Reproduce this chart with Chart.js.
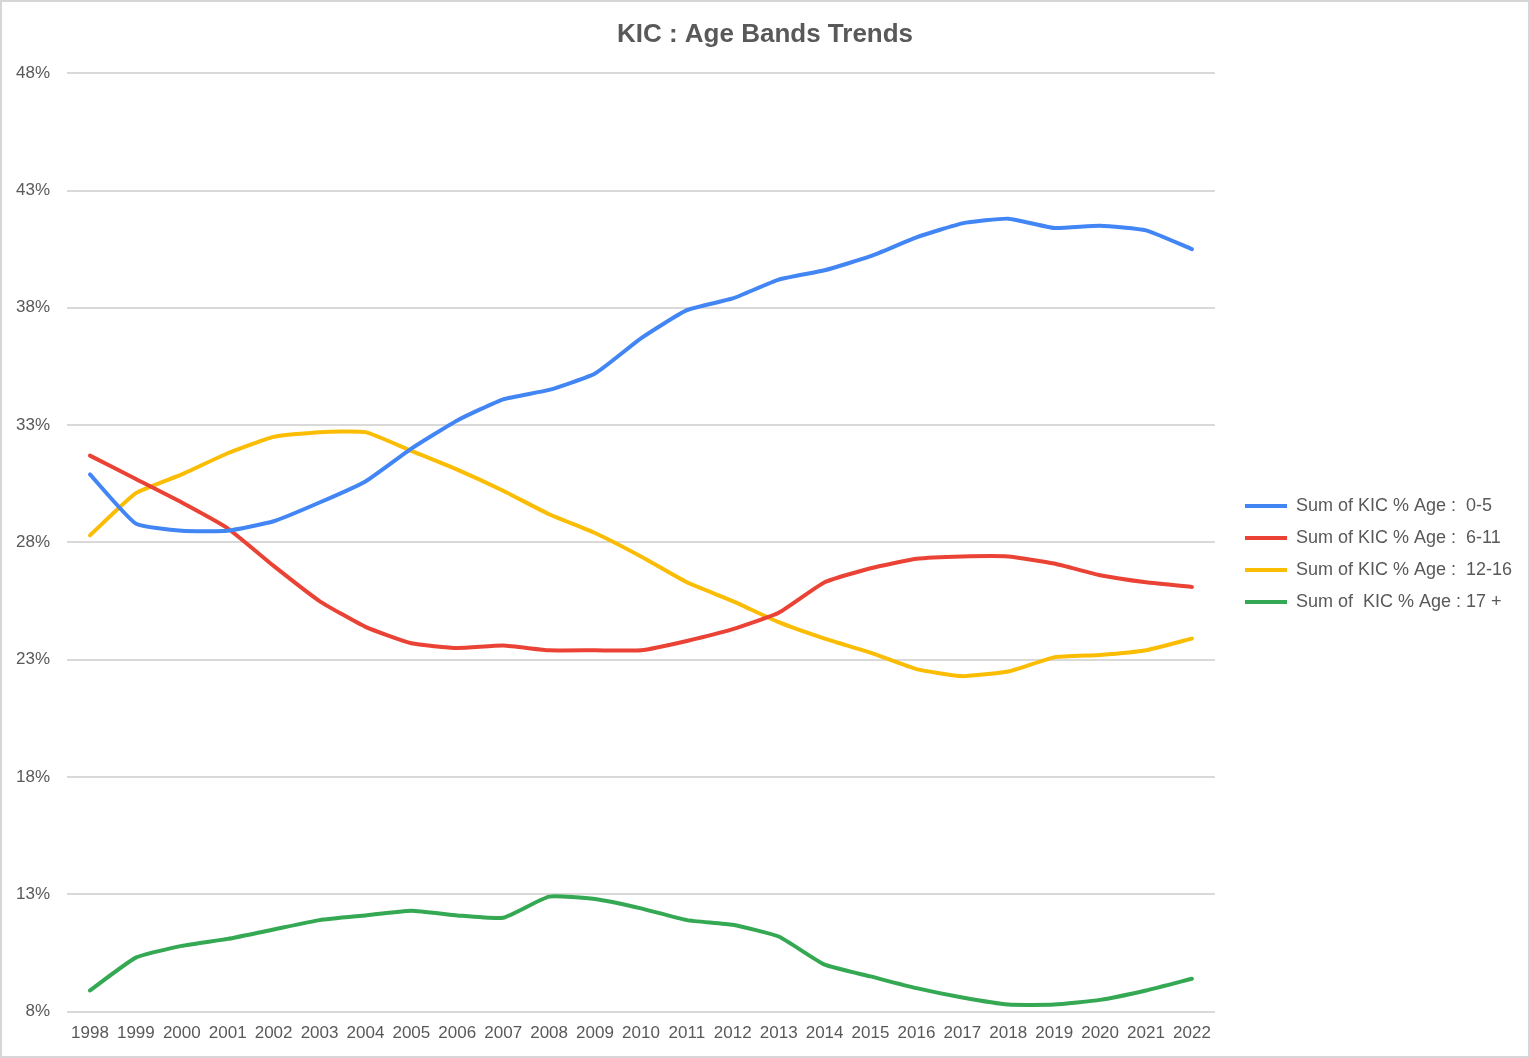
<!DOCTYPE html>
<html>
<head>
<meta charset="utf-8">
<script src="https://cdn.jsdelivr.net/npm/chart.js@4.4.0/dist/chart.umd.min.js"></script>
<style>
  html, body { margin: 0; padding: 0; background: #fff; }
  #wrap { width: 1530px; height: 1058px; position: relative; }
</style>
</head>
<body>
<div id="wrap"><canvas id="ageChart"></canvas></div>
<script>
// --- data (percent)
const years = ['1998', '1999', '2000', '2001', '2002', '2003', '2004', '2005', '2006', '2007', '2008', '2009', '2010',
    '2011', '2012', '2013', '2014', '2015', '2016', '2017', '2018', '2019', '2020', '2021', '2022'];
const age0to5 = [30.9, 28.8, 28.5, 28.5, 28.9, 29.7, 30.6, 32.0, 33.2, 34.1, 34.5, 35.2, 36.7,
    37.9, 38.4, 39.2, 39.6, 40.2, 41.0, 41.6, 41.8, 41.4, 41.5, 41.3, 40.5];
const age6to11 = [31.7, 30.7, 29.7, 28.6, 27.0, 25.5, 24.4, 23.7, 23.5, 23.6, 23.4, 23.4, 23.4,
    23.8, 24.3, 25.0, 26.3, 26.9, 27.3, 27.4, 27.4, 27.1, 26.6, 26.3, 26.1];
const age12to16 = [28.3, 30.1, 30.9, 31.8, 32.5, 32.7, 32.7, 31.9, 31.1, 30.2, 29.2, 28.4, 27.4,
    26.3, 25.5, 24.6, 23.9, 23.3, 22.6, 22.3, 22.5, 23.1, 23.2, 23.4, 23.9];
const age17plus = [8.9, 10.3, 10.8, 11.1, 11.5, 11.9, 12.1, 12.3, 12.1, 12.0, 12.9, 12.8, 12.4,
    11.9, 11.7, 11.2, 10.0, 9.5, 9.0, 8.6, 8.3, 8.3, 8.5, 8.9, 9.4];
const yTicks = [8, 13, 18, 23, 28, 33, 38, 43, 48];

const textColor = '#595959';
const gridColor = '#d9d9d9';
const fontFamily = '"Liberation Sans", Arial, sans-serif';

// --- outer frame like the sheet chart
const framePlugin = {
    id: 'frame',
    afterDraw(chart) {
        const ctx = chart.ctx;
        ctx.save();
        ctx.strokeStyle = '#d6d6d6';
        ctx.lineWidth = 2;
        ctx.strokeRect(1, 1, chart.width - 2, chart.height - 2);
        ctx.restore();
    }
};

// --- nudge legend and title to where the sheet puts them
const blockSpot = {
    id: 'blockSpot',
    afterLayout(chart) {
        const lg = chart.legend;
        if (lg) {
            const pad = lg.options.labels.padding;
            const dx = 1245 - pad - lg.left;
            const dy = 497 - pad - lg.top;
            lg.left += dx; lg.right += dx;
            lg.top += dy; lg.bottom += dy;
        }
        const tb = chart.titleBlock;
        if (tb) {
            tb.left = 0;
            tb.right = chart.width;
        }
    }
};

function series(label, data, color) {
    return {
        label: label,
        data: data,
        borderColor: color,
        backgroundColor: color,
        borderWidth: 4,
        pointRadius: 0,
        tension: 0.15,
        borderCapStyle: 'round',
        fill: false
    };
}

new Chart(document.getElementById('ageChart').getContext('2d'), {
    type: 'line',
    data: {
        labels: years,
        datasets: [
            series('Sum of KIC % Age :  0-5', age0to5, '#4285f4'),
            series('Sum of KIC % Age :  6-11', age6to11, '#ea4335'),
            series('Sum of KIC % Age :  12-16', age12to16, '#fbbc04'),
            series('Sum of  KIC % Age : 17 +', age17plus, '#34a853')
        ]
    },
    options: {
        responsive: true,
        maintainAspectRatio: false,
        animation: false,
        layout: { padding: { left: 14, right: 24, top: 0, bottom: 10 } },
        plugins: {
            title: {
                display: true,
                text: 'KIC : Age Bands Trends',
                color: textColor,
                font: { family: fontFamily, size: 26, weight: 'bold' },
                padding: { top: 19, bottom: 23 }
            },
            legend: {
                position: 'right',
                align: 'start',
                labels: {
                    color: textColor,
                    font: { family: fontFamily, size: 18 },
                    usePointStyle: true,
                    pointStyle: 'line',
                    pointStyleWidth: 42,
                    boxWidth: 42,
                    padding: 14
                }
            },
            tooltip: { enabled: false }
        },
        scales: {
            x: {
                offset: true,
                grid: { display: false },
                border: { display: false },
                ticks: {
                    color: textColor,
                    font: { family: fontFamily, size: 17 },
                    maxRotation: 0,
                    autoSkip: false,
                    padding: 4
                }
            },
            y: {
                min: 8,
                max: 48,
                afterBuildTicks(scale) {
                    scale.ticks = yTicks.map(v => ({ value: v }));
                },
                afterFit(scale) {
                    scale.width = 53;
                },
                grid: { color: gridColor, lineWidth: 2, drawTicks: false },
                border: { display: false },
                ticks: {
                    color: textColor,
                    font: { family: fontFamily, size: 17 },
                    padding: 17,
                    callback: v => v + '%'
                }
            }
        }
    },
    plugins: [framePlugin, blockSpot]
});
</script>
</body>
</html>
